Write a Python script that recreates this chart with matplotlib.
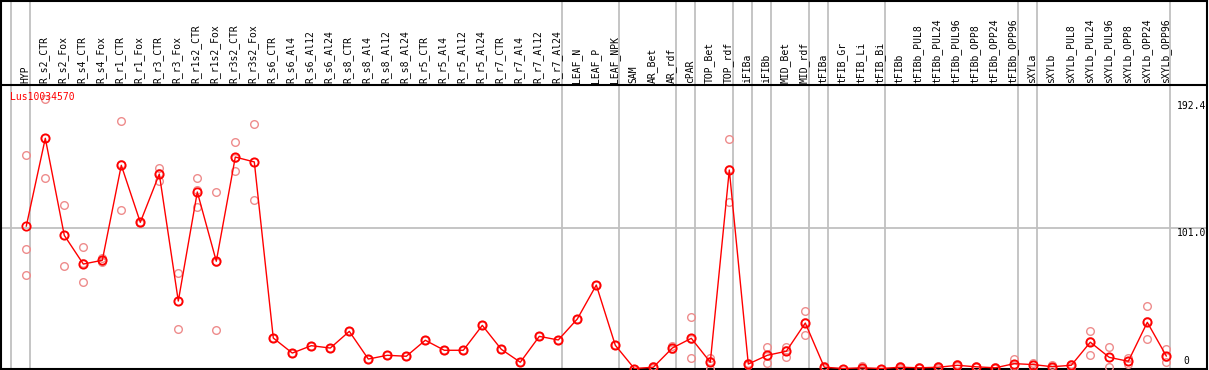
import numpy as np
import matplotlib
matplotlib.use("Agg")
import matplotlib.pyplot as plt

gene = "Lus10034570"

samples = ["HYP", "R_s2_CTR", "R_s2_Fox", "R_s4_CTR", "R_s4_Fox", "R_r1_CTR", "R_r1_Fox",
           "R_r3_CTR", "R_r3_Fox", "R_r1s2_CTR", "R_r1s2_Fox", "R_r3s2_CTR", "R_r3s2_Fox",
           "R_s6_CTR", "R_s6_Al4", "R_s6_Al12", "R_s6_Al24", "R_s8_CTR", "R_s8_Al4",
           "R_s8_Al12", "R_s8_Al24", "R_r5_CTR", "R_r5_Al4", "R_r5_Al12", "R_r5_Al24",
           "R_r7_CTR", "R_r7_Al4", "R_r7_Al12", "R_r7_Al24", "LEAF_N", "LEAF_P", "LEAF_NPK",
           "SAM", "AR_Bet", "AR_rdf", "cPAR", "TOP_Bet", "TOP_rdf", "iFIBa", "iFIBb",
           "MID_Bet", "MID_rdf", "tFIBa", "tFIB_Gr", "tFIB_Li", "tFIB_Bi", "tFIBb",
           "tFIBb_PUL8", "tFIBb_PUL24", "tFIBb_PUL96", "tFIBb_OPP8", "tFIBb_OPP24",
           "tFIBb_OPP96", "sXYLa", "sXYLb", "sXYLb_PUL8", "sXYLb_PUL24", "sXYLb_PUL96",
           "sXYLb_OPP8", "sXYLb_OPP24", "sXYLb_OPP96"]

# sizes of the sample groups (separated by vertical lines)
group_sizes = [1, 28, 3, 3, 1, 2, 1, 1, 2, 1, 3, 7, 1, 7]

mean_expr = [102.4, 165.5, 95.7, 75.1, 77.8, 146.1, 105.1, 139.8, 48.5, 126.9, 77.1, 152.0, 148.5,
             21.9, 11.1, 16.4, 14.7, 26.7, 6.8, 9.5, 8.8, 20.3, 13.1, 13.1, 31.0,
             13.8, 4.5, 23.1, 20.5, 35.6, 60.0, 16.7,
             0.0, 0.9, 14.7, 21.7, 4.5, 142.7, 3.2, 9.5, 12.4, 32.7, 0.9, 0.0, 0.5, 0.0,
             0.9, 0.5, 0.9, 2.3, 1.2, 0.5, 3.5, 2.8, 1.3, 2.3, 18.9, 8.0, 5.2, 33.2, 9.0]

rep_1 = [153.4, 193.7, 117.3, 87.3, 79.7, 177.7, 105.5, 143.9, 68.7, 136.7, 126.7, 162.6, 175.6,
         21.9, 11.1, 16.4, 14.7, 26.7, 6.8, 9.5, 8.8, 20.3, 13.1, 13.1, 31.0,
         13.8, 4.5, 23.1, 20.5, 35.6, 60.0, 16.7,
         0.0, 1.5, 16.2, 36.8, 7.8, 164.8, 3.6, 15.5, 15.7, 41.1, 1.6, 0.0, 1.5, 0.0,
         1.9, 0.8, 1.9, 3.0, 1.5, 0.9, 7.1, 4.2, 2.5, 3.5, 26.7, 15.2, 7.5, 44.7, 13.8]
rep_2 = [85.7, 166.0, 96.0, 75.8, 77.0, 146.7, 105.1, 140.5, 48.4, 128.0, 76.9, 151.4, 148.8,
         21.9, 11.1, 16.4, 14.7, 26.7, 6.8, 9.5, 8.8, 20.3, 13.1, 13.1, 31.0,
         13.8, 4.5, 23.1, 20.5, 35.6, 60.0, 16.7,
         0.0, 0.9, 14.1, 21.0, 5.7, 143.4, 3.2, 9.3, 13.0, 33.1, 0.9, 0.0, 0.0, 0.0,
         0.5, 0.5, 0.5, 2.3, 1.2, 0.5, 2.5, 2.8, 1.3, 2.3, 20.0, 8.0, 5.2, 33.9, 8.5]
rep_3 = [67.0, 136.7, 73.7, 62.2, 76.7, 113.9, 104.7, 135.0, 28.4, 116.1, 27.7, 142.0, 121.1,
         21.9, 11.1, 16.4, 14.7, 26.7, 6.8, 9.5, 8.8, 20.3, 13.1, 13.1, 31.0,
         13.8, 4.5, 23.1, 20.5, 35.6, 60.0, 16.7,
         0.0, 0.3, 13.8, 7.3, 0.0, 119.9, 2.8, 3.7, 8.5, 23.9, 0.2, 0.0, 0.0, 0.0,
         0.3, 0.2, 0.3, 1.6, 0.9, 0.1, 0.9, 1.4, 0.1, 1.1, 9.9, 0.9, 3.2, 21.0, 4.7]

y_ticks = [0, 101.0, 192.4]

# layout (pixels of the 1209x370 image)
W, H = 1209, 370
x0_px, step_px = 26.3, 19.0          # first sample position and spacing
y0_px, unit_px = 368.5, 1.391        # value 0 position and pixels per unit
header_px = 85                        # bottom of the label header

fig = plt.figure(figsize=(W / 100, H / 100), dpi=100)
ax = fig.add_axes([1 / W, 1 / H, (W - 3) / W, (H - 2) / H])
ax.set_xlim((1 - x0_px) / step_px, (W - 2 - x0_px) / step_px)
ax.set_ylim((y0_px - (H - 1)) / unit_px, (y0_px - 1) / unit_px)
ax.set_xticks([])
ax.set_yticks([])
for s in ax.spines.values():
    s.set_linewidth(1.5)
    s.set_color("black")

grey = "#c0c0c0"
header_y = (y0_px - header_px) / unit_px
x = np.arange(len(samples))

# group separators
bounds = np.cumsum(group_sizes) - 1 + 0.22
for b in np.concatenate([[-0.82], bounds]):
    ax.axvline(b, color=grey, lw=1.3, zorder=1)
ax.axhline(y_ticks[1], color=grey, lw=1.3, zorder=1)
ax.axhline(header_y, color="black", lw=1.5, zorder=2)

# sample labels in the header
mono = "DejaVu Sans Mono"
for i, name in enumerate(samples):
    ax.text(i - 0.05, header_y + 2.0 / unit_px, name, rotation=90, ha="center", va="bottom",
            fontsize=7, family=mono, color="black")

# replicate values
for rep in (rep_1, rep_2, rep_3):
    ax.plot(x, rep, ls="none", marker="o", ms=5.5, mfc="none", mec="#ee8c8c", mew=1.0, zorder=3)

# mean expression
ax.plot(x, mean_expr, color="red", lw=1.0, zorder=4)
ax.plot(x, mean_expr, ls="none", marker="o", ms=6, mfc="none", mec="red", mew=1.3, zorder=5)

# value labels at the right
x_right = (W - 3 - x0_px) / step_px
ax.text(x_right, y_ticks[2], "192.4", ha="right", va="top", fontsize=7, family=mono)
ax.text(x_right, y_ticks[1], "101.0", ha="right", va="top", fontsize=7, family=mono)
ax.text(x_right - 1.05, y_ticks[0] + 1.5, "0", ha="center", va="bottom", fontsize=7, family=mono)

ax.text((10 - x0_px) / step_px, (y0_px - 97) / unit_px, gene, color="red", ha="left",
        va="center", fontsize=7, family=mono, zorder=6)

fig.savefig("out.png", dpi=100)
